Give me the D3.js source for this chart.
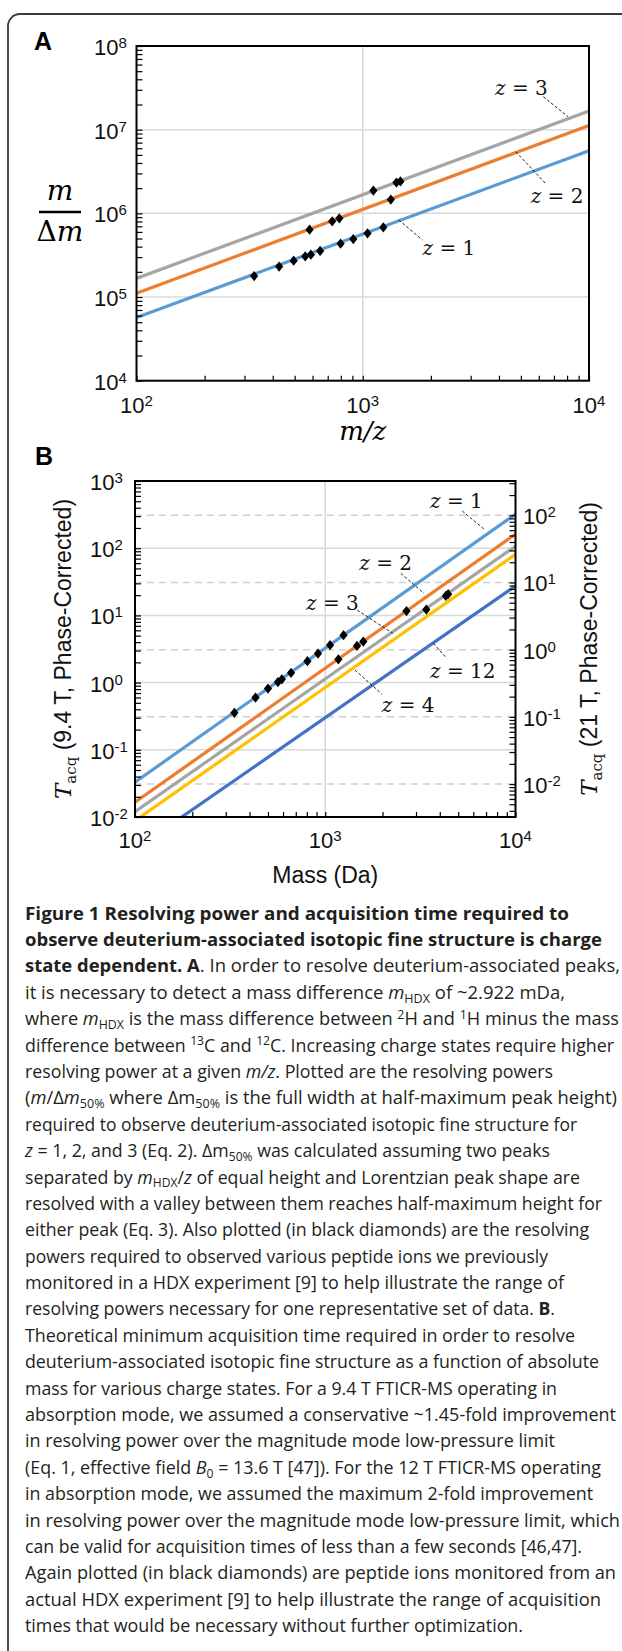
<!DOCTYPE html>
<html>
<head>
<meta charset="utf-8">
<script src="https://cdn.jsdelivr.net/npm/d3@7"></script>
<style>
  body { margin: 0; background: #fff; }
  #fig { position: relative; width: 622px; height: 1651px; overflow: hidden; }
  #fig svg { position: absolute; left: 0; top: 0; }
  .caption { position: absolute; left: 25px; top: 899.6px; font-family: "Open Sans", sans-serif; font-size: 18.5px; color: #231f20; }
  .caption div { height: 26.4px; line-height: 26.4px; white-space: nowrap; }
  .caption span.ln { display: inline-block; transform-origin: 0 50%; }
  .caption sub, .caption sup { font-size: 0.68em; vertical-align: baseline; position: relative; line-height: 0; }
  .caption sub { top: 0.3em; }
  .caption sup { top: -0.5em; }
  .tick line { stroke: #000; stroke-width: 1.2; }
</style>
</head>
<body>
<div id="fig"></div>
<script>
// ---- Panel A data: resolving power m/Δm vs m/z ----
const zA = [1, 2, 3];
const colorsA = ["#5b9bd5", "#ed7d31", "#a5a5a5"];
const massRange = [100, 10000];
const resAt100 = [5.7e4, 1.11e5, 1.67e5];
const resAt10k = [5.6e6, 1.12e7, 1.67e7];
const mzPoints = [331, 427, 495, 557, 590, 648, 798, 908, 1050, 1233, 582, 733, 788, 1331, 1114, 1409, 1467];
const resPoints = [1.78e5, 2.31e5, 2.72e5, 3.06e5, 3.21e5, 3.55e5, 4.34e5, 4.93e5, 5.77e5, 6.81e5,
                   6.38e5, 8.02e5, 8.71e5, 1.46e6, 1.87e6, 2.33e6, 2.41e6];
const yExpA = [4, 5, 6, 7, 8];
const xExp = [2, 3, 4];
// label text position + leader line ends, in data units
const labelsA = [
  {z: 3, x: 3846, y: 2.6e7, x1: 6281, y1: 2.48e7, x2: 8074, y2: 1.43e7},
  {z: 2, x: 5521, y: 1.33e6, x1: 4745, y1: 5.46e6, x2: 6412, y2: 2.29e6},
  {z: 1, x: 1837, y: 3.18e5, x1: 1442, y1: 8.34e5, x2: 1837, y2: 4.81e5}
];

// ---- Panel B data: acquisition time vs mass ----
const zB = [1, 2, 3, 4, 12];
const colorsB = ["#5b9bd5", "#ed7d31", "#a5a5a5", "#ffc000", "#4472c4"];
const tAt100 = [0.033, 0.0166, 0.012, 0.0088, 0.0033];
const tAt10k = [322, 162, 107, 81, 27.4];
const massPoints = [333, 430, 500, 564, 591, 661, 806, 916, 1060, 1248, 1172, 1468, 1585, 2673, 3398, 4305, 4426];
const tacqPoints = [0.355, 0.600, 0.815, 1.02, 1.12, 1.40, 2.08, 2.70, 3.62, 5.07,
                    2.22, 3.51, 4.08, 11.6, 12.2, 19.5, 20.7];
const yExpB = [-2, -1, 0, 1, 2, 3];
const yExpB2 = [-2, -1, 0, 1, 2];
const rightAxisRatio = 3.09;   // 9.4 T time / 21 T time
const labelsB = [
  {z: 1, x: 3556, y: 396, x1: 5248, y1: 358, x2: 6918, y2: 187},
  {z: 2, x: 1510, y: 47.5, x1: 2494, y1: 42.3, x2: 3304, y2: 21.3},
  {z: 3, x: 793, y: 12.0, x1: 1472, y1: 12.0, x2: 2265, y2: 5.42},
  {z: 12, x: 3556, y: 1.17, x1: 3697, y1: 3.85, x2: 4348, y2: 2.30},
  {z: 4, x: 1982, y: 0.369, x1: 1432, y1: 1.54, x2: 1982, y2: 0.676}
];

const captionLines = [
  "<b>Figure 1 Resolving power and acquisition time required to</b>",
  "<b>observe deuterium-associated isotopic fine structure is charge</b>",
  "<b>state dependent. A</b>. In order to resolve deuterium-associated peaks,",
  "it is necessary to detect a mass difference <i>m</i><sub>HDX</sub> of ~2.922 mDa,",
  "where <i>m</i><sub>HDX</sub> is the mass difference between <sup>2</sup>H and <sup>1</sup>H minus the mass",
  "difference between <sup>13</sup>C and <sup>12</sup>C. Increasing charge states require higher",
  "resolving power at a given <i>m/z</i>. Plotted are the resolving powers",
  "(<i>m</i>/Δ<i>m</i><sub>50%</sub> where Δm<sub>50%</sub> is the full width at half-maximum peak height)",
  "required to observe deuterium-associated isotopic fine structure for",
  "<i>z</i> = 1, 2, and 3 (Eq. 2). Δm<sub>50%</sub> was calculated assuming two peaks",
  "separated by <i>m</i><sub>HDX</sub>/<i>z</i> of equal height and Lorentzian peak shape are",
  "resolved with a valley between them reaches half-maximum height for",
  "either peak (Eq. 3). Also plotted (in black diamonds) are the resolving",
  "powers required to observed various peptide ions we previously",
  "monitored in a HDX experiment [9] to help illustrate the range of",
  "resolving powers necessary for one representative set of data. <b>B</b>.",
  "Theoretical minimum acquisition time required in order to resolve",
  "deuterium-associated isotopic fine structure as a function of absolute",
  "mass for various charge states. For a 9.4 T FTICR-MS operating in",
  "absorption mode, we assumed a conservative ~1.45-fold improvement",
  "in resolving power over the magnitude mode low-pressure limit",
  "(Eq. 1, effective field <i>B</i><sub>0</sub> = 13.6 T [47]). For the 12 T FTICR-MS operating",
  "in absorption mode, we assumed the maximum 2-fold improvement",
  "in resolving power over the magnitude mode low-pressure limit, which",
  "can be valid for acquisition times of less than a few seconds [46,47].",
  "Again plotted (in black diamonds) are peptide ions monitored from an",
  "actual HDX experiment [9] to help illustrate the range of acquisition",
  "times that would be necessary without further optimization."
];
// right end (px) of each caption line in the reference
const captionEnds = [569, 602, 620, 565, 619, 614, 553, 617, 577, 550, 580, 602, 589, 548,
                     564, 555, 575, 599, 557, 616, 555, 601, 593, 620, 582, 616, 601, 523];

const sans = "'Liberation Sans', Arial, sans-serif";
const serif = "'DejaVu Serif', serif";

const fig = d3.select("#fig");
const svg = fig.append("svg").attr("width", 622).attr("height", 1651);

// outer box (only top-left corner is inside the picture)
const box = d3.path();
box.moveTo(8, 1700);
box.lineTo(8, 26);
box.arcTo(8, 14, 20, 14, 12);
box.lineTo(700, 14);
svg.append("path").attr("d", box.toString())
  .attr("fill", "none").attr("stroke", "#3a3a3a").attr("stroke-width", 1.8);

// diamond marker
const diamond = {
  draw(ctx, size) {
    const h = Math.sqrt(size / 1.6), w = h * 0.8;
    ctx.moveTo(0, -h); ctx.lineTo(w, 0); ctx.lineTo(0, h); ctx.lineTo(-w, 0); ctx.closePath();
  }
};

function powLabel(text, exp) {
  text.append("tspan").text("10");
  text.append("tspan").attr("font-size", 15).attr("dy", -7).text(exp);
}

function zLabel(g, x, y, z) {
  const t = g.append("text").attr("x", x).attr("y", y)
    .attr("font-family", serif).attr("font-size", 20).attr("fill", "#111");
  t.append("tspan").attr("font-style", "italic").text("z");
  t.append("tspan").text(" = " + z);
}

function leader(g, x1, y1, x2, y2) {
  g.append("line").attr("x1", x1).attr("y1", y1).attr("x2", x2).attr("y2", y2)
    .attr("stroke", "#222").attr("stroke-width", 1).attr("stroke-dasharray", "3,2");
}

// ================= Panel A =================
const A = {left: 136.5, right: 589, top: 46, bottom: 380.7};
const xA = d3.scaleLog().domain(massRange).range([A.left, A.right]);
const yA = d3.scaleLog().domain([1e4, 1e8]).range([A.bottom, A.top]);
const gA = svg.append("g");

svg.append("clipPath").attr("id", "clipA").append("rect")
  .attr("x", A.left).attr("y", A.top).attr("width", A.right - A.left).attr("height", A.bottom - A.top);

// gridlines
gA.selectAll(".hgrid").data(yExpA.slice(1, -1)).join("line")
  .attr("x1", A.left).attr("x2", A.right)
  .attr("y1", d => yA(10 ** d)).attr("y2", d => yA(10 ** d))
  .attr("stroke", "#d9d9d9").attr("stroke-width", 1.5);
gA.append("line").attr("x1", xA(1000)).attr("x2", xA(1000)).attr("y1", A.top).attr("y2", A.bottom)
  .attr("stroke", "#d9d9d9").attr("stroke-width", 1.5);

// series lines
const lineA = d3.line().x(d => xA(d[0])).y(d => yA(d[1]));
gA.append("g").attr("clip-path", "url(#clipA)").selectAll("path")
  .data(zA.map((z, i) => [[massRange[0], resAt100[i]], [massRange[1], resAt10k[i]]]))
  .join("path")
  .attr("d", lineA).attr("fill", "none")
  .attr("stroke", (d, i) => colorsA[i]).attr("stroke-width", 3.2);

// peptide diamonds
gA.selectAll(".dA").data(mzPoints.map((m, i) => [m, resPoints[i]])).join("path")
  .attr("transform", d => `translate(${xA(d[0])},${yA(d[1])})`)
  .attr("d", d3.symbol(diamond, 42)).attr("fill", "#000");

// ticks
gA.append("g").attr("transform", `translate(${A.left},0)`)
  .call(d3.axisLeft(yA).tickSize(-6).tickFormat("")).call(g => g.select(".domain").remove());
gA.append("g").attr("transform", `translate(0,${A.bottom})`)
  .call(d3.axisBottom(xA).tickSize(-5).tickFormat("")).call(g => g.select(".domain").remove());

gA.append("rect").attr("x", A.left).attr("y", A.top)
  .attr("width", A.right - A.left).attr("height", A.bottom - A.top)
  .attr("fill", "none").attr("stroke", "#000").attr("stroke-width", 2);

// tick labels
gA.selectAll(".yl").data(yExpA).join("text")
  .attr("x", A.left - 42.5).attr("y", d => yA(10 ** d) + 9)
  .attr("font-family", sans).attr("font-size", 22).attr("fill", "#111")
  .each(function(d) { powLabel(d3.select(this), d); });
gA.selectAll(".xl").data(xExp).join("text")
  .attr("x", d => xA(10 ** d)).attr("y", A.bottom + 32).attr("text-anchor", "middle")
  .attr("font-family", sans).attr("font-size", 22).attr("fill", "#111")
  .each(function(d) { powLabel(d3.select(this), d); });

// axis titles
gA.append("text").attr("x", 60).attr("y", 200).attr("text-anchor", "middle")
  .attr("font-family", serif).attr("font-style", "italic").attr("font-size", 28).text("m");
gA.append("line").attr("x1", 39).attr("x2", 81).attr("y1", 212).attr("y2", 212)
  .attr("stroke", "#000").attr("stroke-width", 2.5);
const dm = gA.append("text").attr("x", 60).attr("y", 241).attr("text-anchor", "middle")
  .attr("font-family", serif).attr("font-size", 28);
dm.append("tspan").text("Δ");
dm.append("tspan").attr("font-style", "italic").text("m");
gA.append("text").attr("x", xA(1000)).attr("y", 440).attr("text-anchor", "middle")
  .attr("font-family", serif).attr("font-style", "italic").attr("font-size", 26).text("m/z");
gA.append("text").attr("x", 34).attr("y", 50).attr("font-family", sans)
  .attr("font-weight", "bold").attr("font-size", 25).text("A");

labelsA.forEach(l => {
  zLabel(gA, xA(l.x), yA(l.y), l.z);
  leader(gA, xA(l.x1), yA(l.y1), xA(l.x2), yA(l.y2));
});

// ================= Panel B =================
const B = {left: 135, right: 515.5, top: 481, bottom: 817};
const xB = d3.scaleLog().domain(massRange).range([B.left, B.right]);
const yB = d3.scaleLog().domain([1e-2, 1e3]).range([B.bottom, B.top]);
const yB2 = d3.scaleLog().domain([1e-2 / rightAxisRatio, 1e3 / rightAxisRatio]).range([B.bottom, B.top]);
const gB = svg.append("g");

svg.append("clipPath").attr("id", "clipB").append("rect")
  .attr("x", B.left).attr("y", B.top).attr("width", B.right - B.left).attr("height", B.bottom - B.top);

gB.selectAll(".hgrid").data(yExpB.slice(1, -1)).join("line")
  .attr("x1", B.left).attr("x2", B.right)
  .attr("y1", d => yB(10 ** d)).attr("y2", d => yB(10 ** d))
  .attr("stroke", "#d9d9d9").attr("stroke-width", 1.5);
gB.selectAll(".hgrid2").data(yExpB2).join("line")
  .attr("x1", B.left).attr("x2", B.right)
  .attr("y1", d => yB2(10 ** d)).attr("y2", d => yB2(10 ** d))
  .attr("stroke", "#d0d0d0").attr("stroke-width", 1.5).attr("stroke-dasharray", "7,5");
gB.append("line").attr("x1", xB(1000)).attr("x2", xB(1000)).attr("y1", B.top).attr("y2", B.bottom)
  .attr("stroke", "#d9d9d9").attr("stroke-width", 1.5);

const lineB = d3.line().x(d => xB(d[0])).y(d => yB(d[1]));
gB.append("g").attr("clip-path", "url(#clipB)").selectAll("path")
  .data(zB.map((z, i) => [[massRange[0], tAt100[i]], [massRange[1], tAt10k[i]]]))
  .join("path")
  .attr("d", lineB).attr("fill", "none")
  .attr("stroke", (d, i) => colorsB[i]).attr("stroke-width", 3.2);

gB.selectAll(".dB").data(massPoints.map((m, i) => [m, tacqPoints[i]])).join("path")
  .attr("transform", d => `translate(${xB(d[0])},${yB(d[1])})`)
  .attr("d", d3.symbol(diamond, 42)).attr("fill", "#000");

gB.append("g").attr("transform", `translate(${B.left},0)`)
  .call(d3.axisLeft(yB).tickSize(-6).tickFormat("")).call(g => g.select(".domain").remove());
gB.append("g").attr("transform", `translate(${B.right},0)`)
  .call(d3.axisRight(yB2).tickSize(-6).tickFormat("")).call(g => g.select(".domain").remove());
gB.append("g").attr("transform", `translate(0,${B.bottom})`)
  .call(d3.axisBottom(xB).tickSize(-5).tickFormat("")).call(g => g.select(".domain").remove());

gB.append("rect").attr("x", B.left).attr("y", B.top)
  .attr("width", B.right - B.left).attr("height", B.bottom - B.top)
  .attr("fill", "none").attr("stroke", "#000").attr("stroke-width", 2);

gB.selectAll(".yl").data(yExpB).join("text")
  .attr("x", B.left - 45).attr("y", d => yB(10 ** d) + 9)
  .attr("font-family", sans).attr("font-size", 22).attr("fill", "#111")
  .each(function(d) { powLabel(d3.select(this), d); });
gB.selectAll(".yl2").data(yExpB2).join("text")
  .attr("x", B.right + 7.5).attr("y", d => yB2(10 ** d) + 9)
  .attr("font-family", sans).attr("font-size", 22).attr("fill", "#111")
  .each(function(d) { powLabel(d3.select(this), d); });
gB.selectAll(".xl").data(xExp).join("text")
  .attr("x", d => xB(10 ** d)).attr("y", B.bottom + 31).attr("text-anchor", "middle")
  .attr("font-family", sans).attr("font-size", 22).attr("fill", "#111")
  .each(function(d) { powLabel(d3.select(this), d); });

gB.append("text").attr("x", xB(1000)).attr("y", 883).attr("text-anchor", "middle")
  .attr("font-family", sans).attr("font-size", 23).attr("fill", "#111").text("Mass (Da)");
gB.append("text").attr("x", 35).attr("y", 465).attr("font-family", sans)
  .attr("font-weight", "bold").attr("font-size", 25).text("B");

// both titles read bottom-to-top
function tacqTitle(x, y, field) {
  const t = gB.append("text").attr("transform", `translate(${x},${y}) rotate(-90)`)
    .attr("text-anchor", "middle").attr("font-family", sans).attr("font-size", 23).attr("fill", "#111");
  t.append("tspan").attr("font-family", serif).attr("font-style", "italic").attr("font-size", 23).text("T");
  t.append("tspan").attr("font-family", serif).attr("font-size", 15).attr("dy", 5).text("acq");
  t.append("tspan").attr("dy", -5).text(` (${field}, Phase-Corrected)`);
}
tacqTitle(71, (B.top + B.bottom) / 2, "9.4 T");
tacqTitle(597, (B.top + B.bottom) / 2, "21 T");

labelsB.forEach(l => {
  zLabel(gB, xB(l.x), yB(l.y), l.z);
  leader(gB, xB(l.x1), yB(l.y1), xB(l.x2), yB(l.y2));
});

// ================= Caption =================
const cap = fig.append("div").attr("class", "caption");
cap.selectAll("div").data(captionLines).join("div")
  .append("span").attr("class", "ln").html(d => d)
  .each(function(d, i) {
    const w = this.getBoundingClientRect().width;
    const target = captionEnds[i] - 25;
    d3.select(this).style("transform", `scaleX(${target / w})`);
  });
</script>
</body>
</html>
